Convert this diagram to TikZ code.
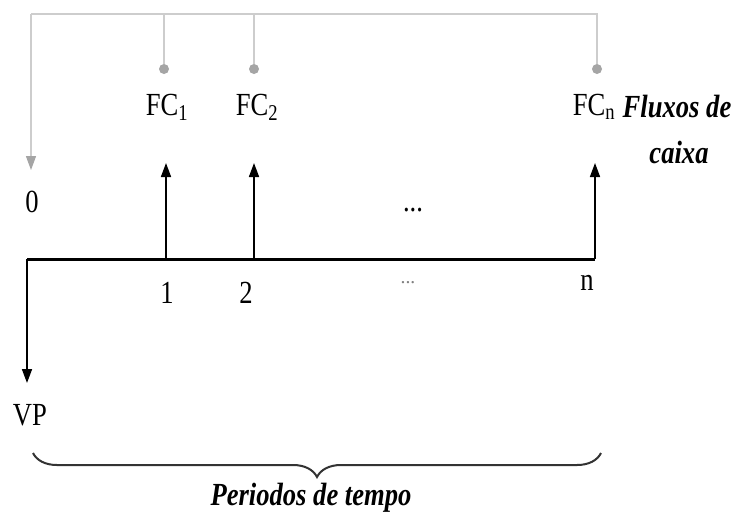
\documentclass[tikz,border=0pt]{standalone}
\usepackage{fontspec}
\setmainfont{Liberation Serif}
\usetikzlibrary{arrows.meta,decorations.pathreplacing}
\definecolor{lgray}{RGB}{205,205,205}
\definecolor{dgray}{RGB}{165,165,165}
\newcommand{\sq}[1]{\scalebox{0.95}[1.15]{#1}}
\tikzset{
  lbl/.style={inner sep=0pt, font=\fontsize{28}{32}\selectfont},
  blbl/.style={inner sep=0pt, font=\fontsize{28}{32}\selectfont\bfseries\itshape},
  gline/.style={draw=lgray, line width=1.2pt},
  gdot/.style={circle, fill=dgray, minimum size=10pt, inner sep=0pt},
  uparrow/.style={draw=black, line width=1.6pt, -{Triangle[length=14pt,width=10pt]}},
  garrow/.style={draw=lgray, line width=1.2pt, -{Triangle[length=14pt,width=10pt,color=dgray]}},
  axis/.style={draw=black, line width=3pt},
  bracestyle/.style={line width=2pt, draw=black!80, decorate, decoration={brace, amplitude=24pt, mirror}},
}
\begin{document}
\begin{tikzpicture}[x=1pt,y=-1pt]
\useasboundingbox (0,0) rectangle (743,515);
\fill[white] (0,0) rectangle (743,515);
% gray connections
\coordinate (tl) at (31,14);
\coordinate (tr) at (597,14);
\coordinate (g0) at (31,170);
\node[gdot] (d1) at (164,69) {};
\node[gdot] (d2) at (254,69) {};
\node[gdot] (dn) at (597,69) {};
\draw[gline] (tl) -- (tr) -- (dn);
\draw[gline] (d1 |- tl) -- (d1);
\draw[gline] (d2 |- tl) -- (d2);
\draw[garrow] (tl) -- (g0);
% labels top
\node[lbl] (fc1) at (167,107) {\sq{FC\textsubscript{1}}};
\node[lbl] (fc2) at (257,107) {\sq{FC\textsubscript{2}}};
\node[lbl] (fcn) at (594,107) {\sq{FC\textsubscript{n}}};
\node[blbl] (flux) at (677,107) {\sq{Fluxos de}};
\node[blbl] (caixa) at (679,152) {\sq{caixa}};
\node[lbl] (zero) at (32,202) {\sq{0}};
% axis
\coordinate (a0) at (27,259);
\coordinate (a1) at (166,259);
\coordinate (a2) at (254,259);
\coordinate (an) at (595,259);
\coordinate (t1) at (166,163);
\coordinate (t2) at (254,163);
\coordinate (tn) at (595,163);
\coordinate (vp) at (27,383);
\draw[axis] (a0) -- (an);
\draw[uparrow] (a1) -- (t1);
\draw[uparrow] (a2) -- (t2);
\draw[uparrow] (an) -- (tn);
\draw[uparrow] (a0) -- (vp);
\node[lbl] (dotsu) at (413,210) {\sq{...}};
\node[lbl, text=gray] (dotsl) at (408,283) {\scalebox{0.7}{...}};
\node[lbl] (l1) at (167,293) {\sq{1}};
\node[lbl] (l2) at (246,293) {\sq{2}};
\node[lbl] (ln) at (587,283) {\sq{n}};
\node[lbl] (vpl) at (30,415) {\sq{VP}};
% brace
\coordinate (b0) at (33,453);
\coordinate (b1) at (601,453);
\draw[bracestyle] (b0) -- (b1);
\node[blbl] (per) at (311,498) {\sq{Periodos de tempo}};
\end{tikzpicture}
\end{document}
